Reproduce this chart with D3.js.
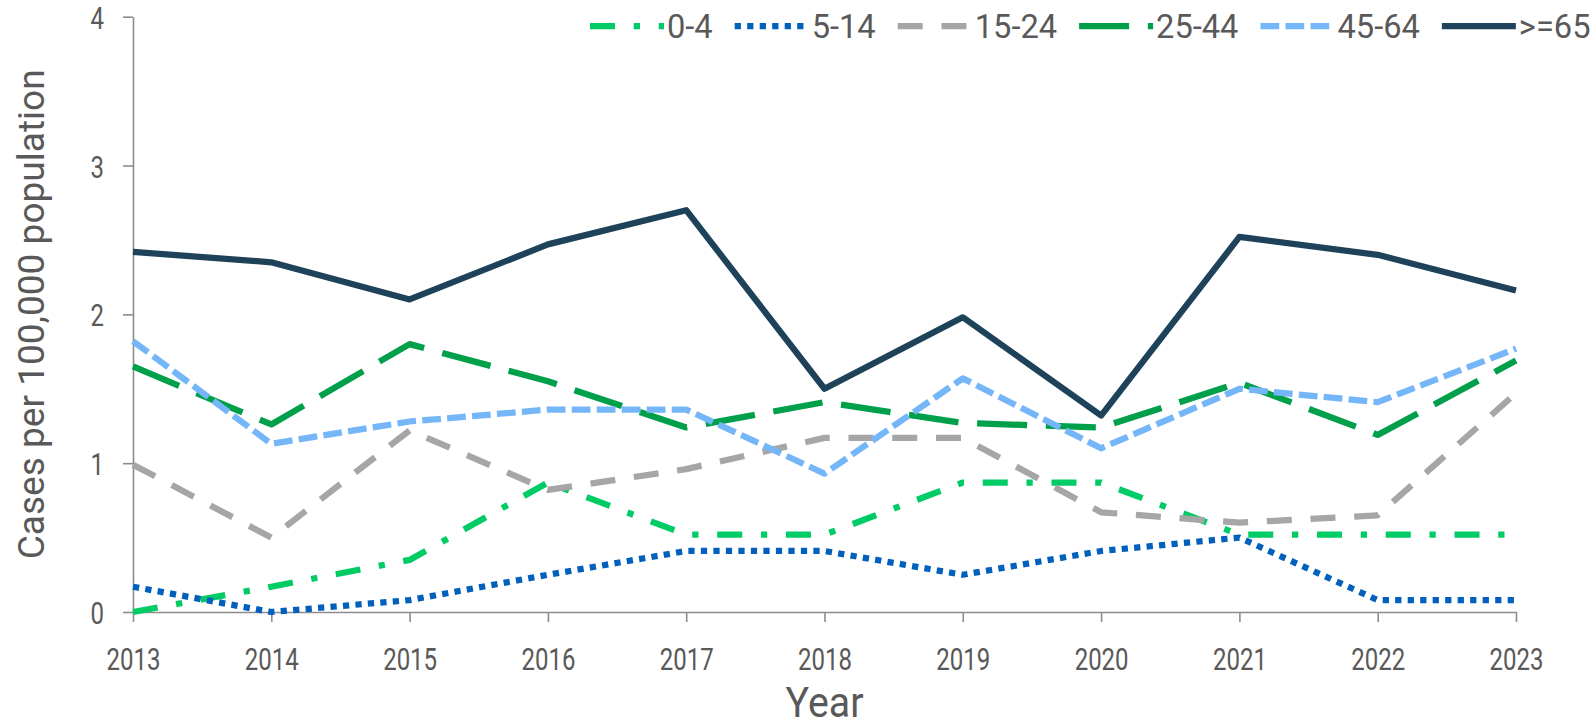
<!DOCTYPE html>
<html>
<head>
<meta charset="utf-8">
<script src="https://cdn.jsdelivr.net/npm/d3@7"></script>
<style>
  body { margin: 0; background: #fff; }
</style>
</head>
<body>
<script>
// data (cases per 100,000 population)
var years = [2013, 2014, 2015, 2016, 2017, 2018, 2019, 2020, 2021, 2022, 2023];
var yTicks = [0, 1, 2, 3, 4];
var ageGroups = ["0-4", "5-14", "15-24", "25-44", "45-64", ">=65"];

var age0to4   = [0.00, 0.17, 0.35, 0.87, 0.52, 0.52, 0.87, 0.87, 0.52, 0.52, 0.52];
var age5to14  = [0.17, 0.00, 0.08, 0.25, 0.41, 0.41, 0.25, 0.41, 0.50, 0.08, 0.08];
var age15to24 = [0.99, 0.50, 1.22, 0.82, 0.96, 1.17, 1.17, 0.67, 0.60, 0.65, 1.47];
var age25to44 = [1.65, 1.26, 1.80, 1.55, 1.24, 1.41, 1.27, 1.24, 1.54, 1.19, 1.69];
var age45to64 = [1.82, 1.13, 1.28, 1.36, 1.36, 0.93, 1.57, 1.10, 1.50, 1.41, 1.77];
var age65plus = [2.42, 2.35, 2.10, 2.47, 2.70, 1.50, 1.98, 1.32, 2.52, 2.40, 2.16];

var width = 1591,
    height = 726,
    lineW = 6.25,
    textColor = "#595959",
    axisColor = "#8c8c8c";

// dash patterns are in multiples of the line width
var series = [
  { name: ageGroups[0], values: age0to4,   color: "#00cc66", dash: [4, 3, 1, 3] },
  { name: ageGroups[1], values: age5to14,  color: "#0060bc", dash: [1, 1] },
  { name: ageGroups[2], values: age15to24, color: "#a6a6a6", dash: [4, 3] },
  { name: ageGroups[3], values: age25to44, color: "#00a04b", dash: [8, 3] },
  { name: ageGroups[4], values: age45to64, color: "#74b6f7", dash: [3, 1] },
  { name: ageGroups[5], values: age65plus, color: "#1e4259", dash: null }
];

function dashArray(d) {
  return d ? d.map(function(v) { return v * lineW; }).join(",") : null;
}

var svg = d3.select("body").append("svg")
    .attr("width", width)
    .attr("height", height)
    .style("font-family", "Roboto, 'Liberation Sans', sans-serif");

var x = d3.scalePoint().domain(years).range([133, 1516]);
var y = d3.scaleLinear().domain([0, 4]).range([612, 16.7]);

// axes
var tickSx = 0.75, tickSize = 32;

var xAxis = svg.append("g")
    .attr("transform", "translate(0," + y(0) + ")")
    .call(d3.axisBottom(x).tickSize(10).tickSizeOuter(0));

xAxis.selectAll("text")
    .attr("y", 58)
    .attr("dy", null)
    .attr("transform", "scale(" + tickSx + ",1)");

var yAxis = svg.append("g")
    .attr("transform", "translate(" + x(years[0]) + ",0)")
    .call(d3.axisLeft(y).tickValues(yTicks).tickSize(10).tickSizeOuter(0).tickFormat(d3.format("d")));

yAxis.selectAll("text")
    .attr("x", -29 / tickSx)
    .attr("dy", "0.36em")
    .attr("transform", "scale(" + tickSx + ",1)");

svg.selectAll(".domain, .tick line")
    .attr("stroke", axisColor)
    .attr("stroke-width", 1.6);

svg.selectAll(".tick text")
    .attr("fill", textColor)
    .style("font-size", tickSize + "px")
    .style("font-family", "Roboto, sans-serif");

// axis titles
svg.append("text")
    .attr("x", (x.range()[0] + x.range()[1]) / 2)
    .attr("y", 717)
    .attr("text-anchor", "middle")
    .attr("fill", textColor)
    .attr("textLength", 78)
    .attr("lengthAdjust", "spacingAndGlyphs")
    .style("font-size", "42px")
    .text("Year");

svg.append("text")
    .attr("transform", "translate(44," + (y(0) + y(4)) / 2 + ") rotate(-90)")
    .attr("text-anchor", "middle")
    .attr("fill", textColor)
    .attr("textLength", 490)
    .attr("lengthAdjust", "spacingAndGlyphs")
    .style("font-size", "36px")
    .text("Cases per 100,000 population");

// lines
var line = d3.line()
    .x(function(d, i) { return x(years[i]); })
    .y(function(d) { return y(d); });

svg.append("g").selectAll("path")
    .data(series)
    .enter().append("path")
    .attr("fill", "none")
    .attr("stroke", function(d) { return d.color; })
    .attr("stroke-width", lineW)
    .attr("stroke-linejoin", "round")
    .attr("stroke-dasharray", function(d) { return dashArray(d.dash); })
    .attr("d", function(d) { return line(d.values); });

// legend
var legSx = 0.96, legX = 590, legY = 26;
var legend = svg.append("g");

series.forEach(function(s) {
  var g = legend.append("g").attr("transform", "translate(" + legX + ",0)");
  g.append("line")
      .attr("x1", 0).attr("x2", 74)
      .attr("y1", legY).attr("y2", legY)
      .attr("stroke", s.color)
      .attr("stroke-width", lineW)
      .attr("stroke-dasharray", dashArray(s.dash));
  var t = g.append("text")
      .attr("x", 77 / legSx)
      .attr("y", legY + 12)
      .attr("transform", "scale(" + legSx + ",1)")
      .attr("fill", textColor)
      .style("font-size", "34px")
      .text(s.name);
  legX += 77 + t.node().getComputedTextLength() * legSx + 22;
});
</script>
</body>
</html>
